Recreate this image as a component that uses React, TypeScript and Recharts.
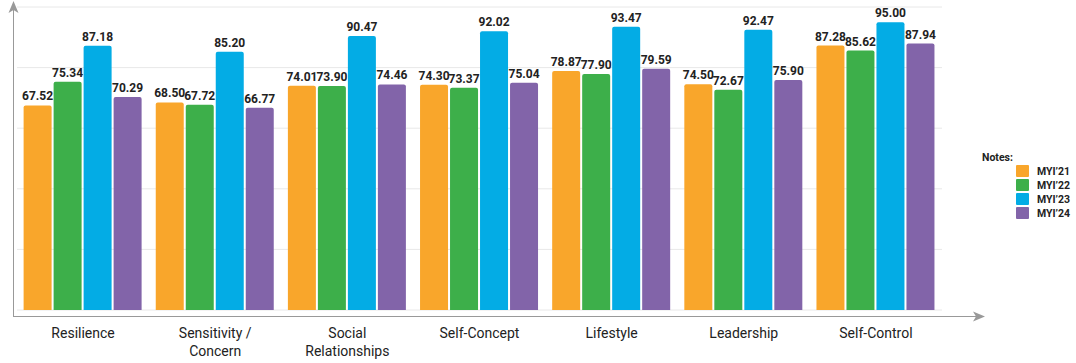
import { Bar, BarChart, CartesianGrid, LabelList, XAxis, YAxis } from "recharts"

const categories = [
  "Resilience",
  "Sensitivity /\nConcern",
  "Social\nRelationships",
  "Self-Concept",
  "Lifestyle",
  "Leadership",
  "Self-Control",
]
const myi21 = [67.52, 68.5, 74.01, 74.3, 78.87, 74.5, 87.28]
const myi22 = [75.34, 67.72, 73.9, 73.37, 77.9, 72.67, 85.62]
const myi23 = [87.18, 85.2, 90.47, 92.02, 93.47, 92.47, 95.0]
const myi24 = [70.29, 66.77, 74.46, 75.04, 79.59, 75.9, 87.94]
const yTicks = [0, 20, 40, 60, 80, 100]

const series = [
  { key: "myi21", name: "MYI’21", color: "#F9A62B" },
  { key: "myi22", name: "MYI’22", color: "#3DAF4A" },
  { key: "myi23", name: "MYI’23", color: "#03ACE5" },
  { key: "myi24", name: "MYI’24", color: "#8264A9" },
]

const data = categories.map((name, i) => ({
  name,
  myi21: myi21[i],
  myi22: myi22[i],
  myi23: myi23[i],
  myi24: myi24[i],
}))

const FONT = "Roboto, 'Noto Sans', sans-serif"

function CategoryTick(props: any) {
  const { x, y, payload } = props
  const lines = String(payload.value).split("\n")
  return (
    <text x={x} y={y} textAnchor="middle" fontSize={14} fill="#222" fontFamily={FONT}>
      {lines.map((l, i) => (
        <tspan key={i} x={x} dy={i === 0 ? 20 : 18}>
          {l}
        </tspan>
      ))}
    </text>
  )
}

function NotesLegend() {
  return (
    <div
      style={{
        position: "absolute",
        left: 982,
        top: 151,
        fontFamily: FONT,
        fontSize: 10.5,
        fontWeight: 700,
        color: "#222",
      }}
    >
      <div style={{ marginBottom: 0 }}>Notes:</div>
      {series.map((s) => (
        <div key={s.key} style={{ display: "flex", alignItems: "center", marginLeft: 34, height: 14 }}>
          <span style={{ width: 13, height: 12, background: s.color, borderRadius: 1, marginRight: 8 }} />
          {s.name}
        </div>
      ))}
    </div>
  )
}

export default function App() {
  return (
    <div style={{ position: "absolute", left: 0, top: 0, width: 1076, height: 363, background: "#fff", overflow: "hidden" }}>
      <BarChart
        width={1076}
        height={363}
        data={data}
        margin={{ top: 7, right: 134, left: 17, bottom: 0 }}
        barCategoryGap="5%"
        barGap={2}
      >
        <CartesianGrid vertical={false} stroke="#e8e8e8" />
        <XAxis dataKey="name" axisLine={false} tickLine={false} interval={0} height={53} tick={<CategoryTick />} />
        <YAxis hide domain={[0, 100]} ticks={yTicks} />
        {series.map((s) => (
          <Bar
            key={s.key}
            dataKey={s.key}
            name={s.name}
            fill={s.color}
            radius={[2, 2, 0, 0]}
            isAnimationActive={false}
          >
            <LabelList
              dataKey={s.key}
              position="top"
              offset={5}
              formatter={(v: any) => Number(v).toFixed(2)}
              style={{ fontFamily: FONT, fontSize: 12, fontWeight: 700, fill: "#222" }}
            />
          </Bar>
        ))}
      </BarChart>
      <NotesLegend />
      <svg width={1076} height={363} style={{ position: "absolute", left: 0, top: 0, pointerEvents: "none" }}>
        <line x1={13.5} y1={316.5} x2={13.5} y2={6} stroke="#999" strokeWidth={1} />
        <polygon points="13.5,1 8.5,13 13.5,10 18.5,13" fill="#999" />
        <line x1={13} y1={316.5} x2={980} y2={316.5} stroke="#999" strokeWidth={1} />
        <polygon points="985,316.5 973,311.5 976,316.5 973,321.5" fill="#999" />
      </svg>
    </div>
  )
}
